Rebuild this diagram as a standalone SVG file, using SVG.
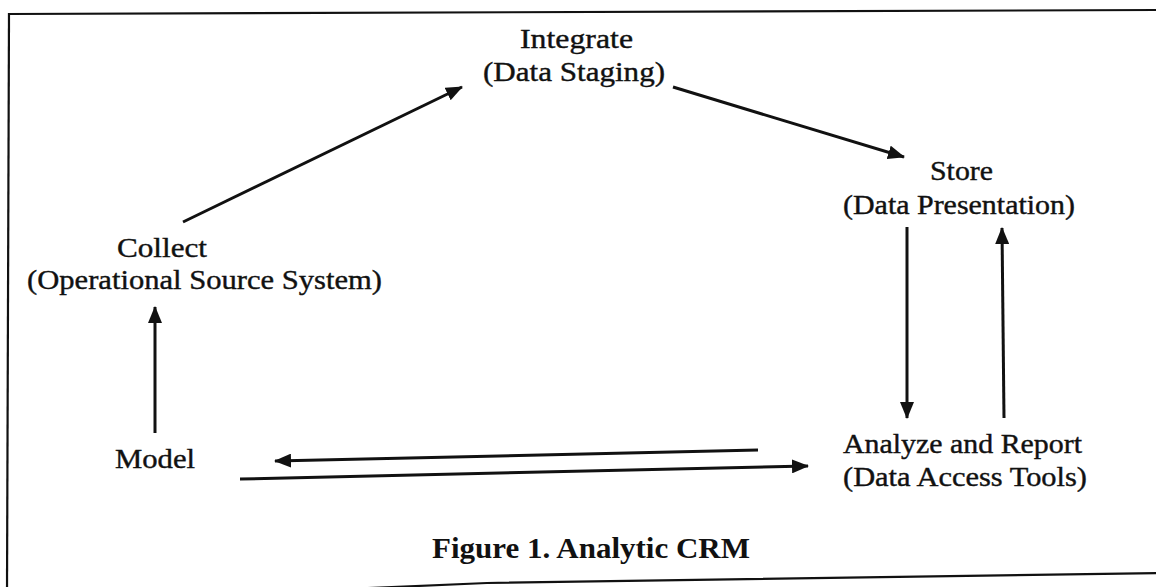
<svg xmlns="http://www.w3.org/2000/svg" width="1156" height="587" viewBox="0 0 1156 587">
<style>
.lbl{font-family:"Liberation Serif","Times New Roman",serif;font-size:28px;fill:#111;stroke:#111;stroke-width:0.4;}
.ttl{font-family:"Liberation Serif","Times New Roman",serif;font-size:29px;font-weight:bold;fill:#111;}
.conn{stroke:#111;stroke-width:3;fill:none;marker-end:url(#ah);}
.frame{stroke:#111;stroke-width:2.2;fill:none;}
</style>
<defs>
<marker id="ah" markerUnits="userSpaceOnUse" markerWidth="18" markerHeight="14" refX="16" refY="7" orient="auto" viewBox="0 0 18 14">
<path d="M0,0 L17,7 L0,14 Z" fill="#111"/>
</marker>
</defs>
<g id="frame">
<line class="frame" x1="9" y1="14" x2="1158" y2="10"/>
<line class="frame" x1="9" y1="13" x2="7" y2="590"/>
<polyline class="frame" points="300,591 487,583 1158,573"/>
</g>
<g id="connectors">
<line class="conn" x1="183" y1="222" x2="462" y2="87"/>
<line class="conn" x1="673" y1="87" x2="904" y2="157"/>
<line class="conn" x1="907" y1="227" x2="907" y2="418"/>
<line class="conn" x1="1004" y1="418" x2="1002" y2="228"/>
<line class="conn" x1="155" y1="433" x2="155" y2="307"/>
<line class="conn" x1="758" y1="450" x2="275" y2="461"/>
<line class="conn" x1="240" y1="479" x2="808" y2="466"/>
</g>
<g id="integrate">
<text class="lbl" x="520" y="48" textLength="113" lengthAdjust="spacingAndGlyphs">Integrate</text>
<text class="lbl" x="483" y="81" textLength="182" lengthAdjust="spacingAndGlyphs">(Data Staging)</text>
</g>
<g id="store">
<text class="lbl" x="930" y="180" textLength="63" lengthAdjust="spacingAndGlyphs">Store</text>
<text class="lbl" x="843" y="214" textLength="232" lengthAdjust="spacingAndGlyphs">(Data Presentation)</text>
</g>
<g id="collect">
<text class="lbl" x="117" y="257" textLength="90" lengthAdjust="spacingAndGlyphs">Collect</text>
<text class="lbl" x="27" y="289" textLength="355" lengthAdjust="spacingAndGlyphs">(Operational Source System)</text>
</g>
<g id="model">
<text class="lbl" x="115" y="468" textLength="80" lengthAdjust="spacingAndGlyphs">Model</text>
</g>
<g id="analyze">
<text class="lbl" x="843" y="453" textLength="239" lengthAdjust="spacingAndGlyphs">Analyze and Report</text>
<text class="lbl" x="843" y="486" textLength="244" lengthAdjust="spacingAndGlyphs">(Data Access Tools)</text>
</g>
<g id="caption">
<text class="ttl" x="432" y="558" textLength="318" lengthAdjust="spacingAndGlyphs">Figure 1. Analytic CRM</text>
</g>
</svg>
